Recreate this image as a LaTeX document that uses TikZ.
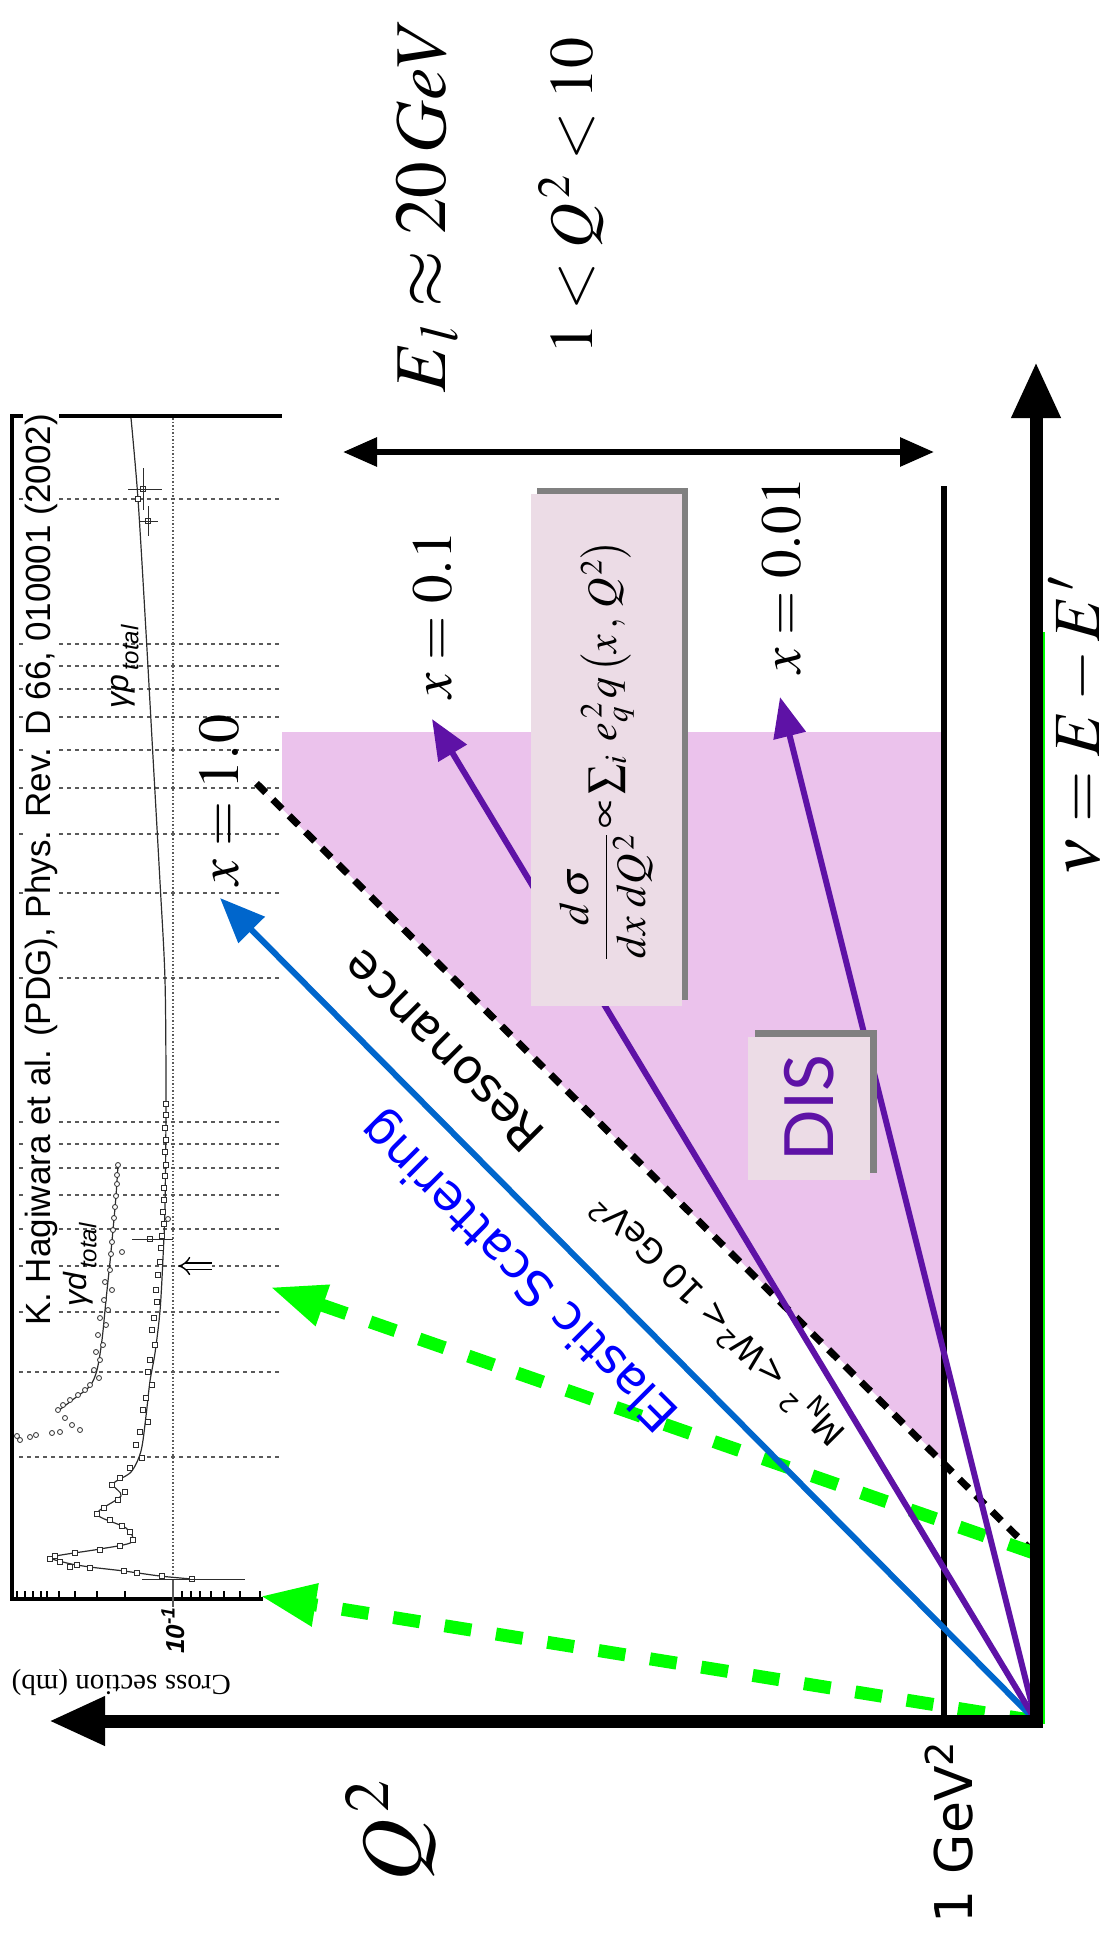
\documentclass[tikz,border=0pt]{standalone}
\usepackage{amsmath,amssymb}
\usepackage{mathptmx}
\usepackage[no-math]{fontspec}
\setmainfont{Liberation Serif}
\setsansfont{DejaVu Sans}
\newfontfamily\pdgfont{Liberation Sans}
\newfontfamily\disfont{Lato}
\usepackage{xcolor}
\usepackage{tikz}
\usetikzlibrary{calc,arrows,arrows.meta,positioning}
\definecolor{cPurp}{RGB}{94,18,166}
\definecolor{cBlue}{RGB}{0,102,204}
\definecolor{cText}{RGB}{0,0,255}
\definecolor{cGreen}{RGB}{0,255,0}
\definecolor{cDIS}{RGB}{235,194,236}
\definecolor{cBox}{RGB}{236,220,230}
\definecolor{cShade}{RGB}{128,128,128}
\definecolor{cGrid}{RGB}{90,90,90}
\definecolor{cData}{RGB}{45,45,45}
\newcommand{\fsz}[1]{\fontsize{#1}{#1}\selectfont}

\begin{document}
\begin{tikzpicture}[x=1pt,y=-1pt,
  axis/.style={line width=13pt,line cap=rect,-{Triangle[length=56pt,width=46pt]}},
  erange/.style={line width=6pt,{Triangle[length=34pt,width=28pt]}-{Triangle[length=34pt,width=28pt]}},
  wline/.style={cGreen,line width=13pt,dash pattern=on 27pt off 25pt,-{Triangle[length=56pt,width=40pt]}},
  xline/.style={cPurp,line width=6pt,-{Triangle[length=40pt,width=32pt]}},
  elline/.style={cBlue,line width=6pt,-{Triangle[length=45pt,width=36pt]}},
  lbl/.style={inner sep=0pt},
  gridl/.style={cGrid,line width=1.5pt,dash pattern=on 4pt off 4pt},
  sq/.style={cData,line width=0.8pt,fill=white},
  fbox/.style={fill=cBox,inner sep=0pt}]
  \useasboundingbox (0,0) rectangle (1110,1937);

  % kinematic points
  \coordinate (O) at (1036,1721);
  \coordinate (Qtip) at (49,1721);
  \coordinate (Ntip) at (1036,362);
  \coordinate (W) at (1034,1553);
  \coordinate (Wtop) at (253,780);
  \coordinate (Wlow) at (270,1287);
  \coordinate (Wel) at (260,1596);
  \coordinate (Eltip) at (220,898);
  \coordinate (Xa) at (432,719);
  \coordinate (Xb) at (780,697);
  \coordinate (Rl) at (343,452);
  \coordinate (Rr) at (934,452);
  \coordinate (Gtop) at (944,486);
  \coordinate (Gbot) at (944,1721);

  % DIS region
  \fill[cDIS] (282,732) -- (944,732) -- (944,1462) -- (Wtop) -- (282,809) -- cycle;

  % inset: total photoabsorption data
  \draw[line width=3.5pt] (12,1599) -- (12,416) -- (282,416);
  \draw[line width=3.5pt] (10,1599) -- (263,1599);
  \foreach \t in {17,25,33,41,47,59,75,97,125,182,191,200,211,224,240,260}
    \draw[line width=1.5pt] (\t,1599) -- (\t,1591);
  \draw[cGrid,line width=1.5pt,dotted] (173,418) -- (173,1597);
  \draw[cGrid,line width=1.5pt] (173,1582) -- (173,1607);
  \foreach \g in {499,644,666,689,717,750,788,834,893,978,1122,1144,1168,1195,1229,1266,1312,1372,1457}
    \draw[gridl] (19,\g) -- (282,\g);
  \draw[cData,line width=1.2pt] plot[smooth] coordinates {(131,418) (138,499) (146,632) (153,757)
    (160,882) (165,980) (166,1100) (165,1205) (163,1258) (160,1311) (155,1353) (150,1381)
    (146,1416) (141,1451) (131,1472) (113,1484) (121,1496) (97,1514) (126,1528) (132,1542)
    (100,1549) (52,1557) (67,1563) (90,1567) (124,1571) (160,1576) (192,1579)};
  \draw[cData,line width=1.2pt] plot[smooth] coordinates {(118,1165) (116,1196) (113,1230)
    (110,1262) (106,1300) (102,1340) (97,1370) (90,1386) (75,1398) (58,1411)};
  \foreach \x/\y in {166/1104,166/1115,165/1128,166/1140,165/1152,166/1165,165/1176,164/1188,
    164/1200,163/1212,164/1224,162/1236,161/1248,160/1262,158/1275,156/1290,157/1302,154/1318,
    152/1330,155/1345,150/1360,148/1372,152/1385,146/1398,143/1410,148/1422,140/1432,136/1445,
    142/1458,130/1468,120/1478,112/1485,125/1492,118/1500,104/1508,97/1514,110/1520,122/1526,
    130/1532,133/1540,120/1546,100/1550,75/1553,55/1556,50/1559,60/1562,70/1567,77/1565,
    90/1568,124/1571,137/1573,162/1576,192/1579,150/1239,138/499,143/489,148/521}
    \draw[sq] (\x-2.5,\y-2.5) rectangle ++(5,5);
  \foreach \x/\y in {118/1165,117/1175,117/1184,116/1196,115/1207,114/1218,113/1230,112/1242,
    111/1254,122/1252,110/1270,105/1282,112/1290,104/1300,108/1310,100/1318,106/1325,98/1335,
    103/1345,96/1352,100/1360,94/1370,99/1378,90/1385,85/1390,78/1395,70/1400,63/1405,58/1410,
    65/1418,72/1425,80/1430,60/1432,52/1433,36/1435,30/1437,20/1440,17/1436,168/1219}
    \draw[sq] (\x,\y) circle[radius=2.5pt];
  \draw[cData,line width=1pt] (128,489) -- (162,489) (143,468) -- (143,510)
    (140,521) -- (158,521) (148,506) -- (148,536) (132,1239) -- (173,1239)
    (142,1579) -- (245,1579);
  \draw[double,double distance=5pt,line width=1.4pt,-{Implies}] (212,1266) -- (178,1266);

  % 1 GeV^2 line and high-nu edge
  \draw[line width=6pt] (Gtop) -- (Gbot);
  \draw[cGreen,line width=4pt] (1043,632) -- (1043,1724);

  % W^2 = 10 GeV^2 boundary, elastic and W lines
  \draw[line width=7pt,dash pattern=on 13pt off 10pt] (W) -- (Wtop);
  \draw[wline] (O) -- (Wel);
  \draw[wline] (W) -- (Wlow);
  \draw[elline] (O) -- (Eltip);
  \draw[xline] (O) -- (Xa);
  \draw[xline] (O) -- (Xb);

  % boxes
  \fill[cShade] (537,488) rectangle (688,1000);
  \node[fbox,minimum width=151pt,minimum height=512pt] (fbox) at (606.5,750) {};
  \node[lbl,rotate=90] (formula) at (fbox.center)
    {\fsz{42}$\dfrac{d\,\sigma}{dx\;dQ^{\,2}}\!\propto\!\textstyle\sum_{i}\;e_q^{\,2}\,q\left(x\,,\,Q^{\,2}\right)$};
  \fill[cShade] (755,1030) rectangle (877,1173);
  \node[fbox,minimum width=122pt,minimum height=143pt] (dbox) at (809,1108) {};
  \node[lbl,rotate=90,text=cPurp] (dis) at (dbox.center) {\disfont\fsz{68}DIS};

  % labels
  \node[lbl,rotate=90,anchor=base west,fill=white,inner sep=2pt] (pdg) at (50,1328)
    {\pdgfont\fsz{35}K. Hagiwara et al. (PDG), Phys. Rev. D 66, 010001 (2002)};
  \node[lbl,rotate=90] (gp) at (125,667) {\pdgfont\itshape\fsz{32}γp\raisebox{-0.3em}{\fsz{24}\,total}};
  \node[lbl,rotate=90] (gd) at (80,1265) {\pdgfont\itshape\fsz{32}γd\raisebox{-0.3em}{\fsz{24}\,total}};
  \node[lbl,rotate=180,anchor=base west] (xs) at (231,1675) {\fsz{29}Cross section (mb)};
  \node[lbl,rotate=90,anchor=base west] (tick) at (184,1654) {\pdgfont\bfseries\itshape\fsz{26}10\textsuperscript{-1}};
  \node[lbl,rotate=90,anchor=base west] (El) at (445,393) {\fsz{73}$E_{\,l}\approx 20\,GeV$};
  \node[lbl,rotate=90,anchor=base west] (Qr) at (592,355) {\fsz{62}$1<Q^{\,2}<10$};
  \node[lbl,rotate=90,anchor=base west] (nu) at (1099,877) {\fsz{66}$\nu = E - E^{\,\prime}$};
  \node[lbl,rotate=90,anchor=base west] (Qlab) at (420,1882) {\fsz{86}$Q^{\,2}$};
  \node[lbl,rotate=90,anchor=base west] (gev) at (972,1924) {\sffamily\fsz{52}1 GeV\textsuperscript{2}};
  \node[lbl,rotate=90,anchor=base west] (x1) at (238,886) {\fsz{58}$x=1.0$};
  \node[lbl,rotate=90,anchor=base west] (x01) at (451,699) {\fsz{57}$x=0.1$};
  \node[lbl,rotate=90,anchor=base west] (x001) at (800,674) {\fsz{57}$x=0.01$};
  \node[lbl,rotate=135,anchor=base west] (res) at (548,1132) {\sffamily\fsz{48}Resonance};
  \node[lbl,rotate=135,anchor=base west] (wrange) at (848,1432)
    {\sffamily\fsz{34}M\textsubscript{N}\,\textsuperscript{2} <W\textsuperscript{2}< 10 GeV\textsuperscript{2}};
  \node[lbl,rotate=135,anchor=base west,text=cText] (el) at (682,1412) {\sffamily\fsz{49}Elastic Scattering};

  % axes
  \draw[axis] (O) -- (Qtip);
  \draw[axis] (O) -- (Ntip);
  \draw[erange] (Rl) -- (Rr);
\end{tikzpicture}
\end{document}
